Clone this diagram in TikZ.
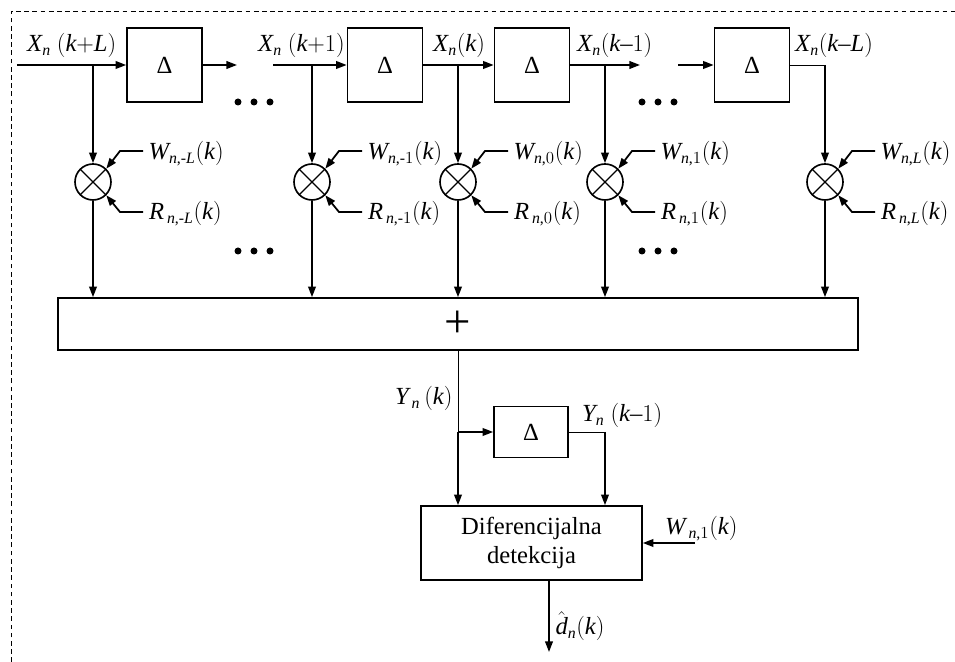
\documentclass[tikz,border=0pt]{standalone}
\usepackage{amsmath}
\usepackage{fontspec}
\setmainfont{Liberation Serif}
\usepackage[italic]{mathastext}
\usepackage{tikz}
\usetikzlibrary{arrows.meta,positioning,calc}
\DeclareMathSizes{21}{21}{13.5}{10}
\tikzset{
  % Delay elements
  dbox/.style={draw,line width=1.4pt,minimum width=2.25cm,minimum height=2.22cm,
               inner sep=0pt,font=\fontsize{21}{25.5}\selectfont},
  % Multipliers
  mult/.style={draw,circle,line width=1.4pt,minimum size=1.08cm,inner sep=0pt,
               path picture={\draw[line width=1pt] (path picture bounding box.north west)
                 -- (path picture bounding box.south east)
                 (path picture bounding box.north east)
                 -- (path picture bounding box.south west);}},
  % Summer and detector
  sumbox/.style={draw,line width=1.4pt,minimum width=24cm,minimum height=1.56cm,
                 inner sep=0pt},
  detbox/.style={draw,line width=1.4pt,minimum width=6.63cm,minimum height=2.22cm,
                 align=center,font=\fontsize{21}{25.5}\selectfont},
  % Connectors & labels
  fl/.style={-{Triangle[length=9pt,width=6.5pt]},line width=1.5pt},
  thinln/.style={line width=0.8pt},
  lbl/.style={font=\fontsize{21}{25.5}\selectfont,inner sep=0pt}
}
\begin{document}
\begin{tikzpicture}
  \useasboundingbox (0,0) rectangle (28.65,19.86);
  % Frame (top and left only)
  \draw[thinln,dash pattern=on 4pt off 3pt] (0.33,0) -- (0.33,19.53) -- (28.65,19.53);

  % --- Delay line ---
  \node[dbox] (d1) at (4.935,17.91) {Δ};
  \node[dbox] (d2) at (11.55,17.91) {Δ};
  \node[dbox] (d3) at (15.96,17.91) {Δ};
  \node[dbox] (d4) at (22.56,17.91) {Δ};

  \coordinate (in1)  at (0.51,17.91);
  \coordinate (out1) at (7.11,17.91);
  \coordinate (in2)  at (8.19,17.91);
  \coordinate (out3) at (19.2,17.91);
  \coordinate (in4)  at (20.34,17.91);

  % --- Multipliers ---
  \node[mult] (m1) at (2.79,14.4) {};
  \node[mult] (m2) at (9.36,14.4) {};
  \node[mult] (m3) at (13.74,14.4) {};
  \node[mult] (m4) at (18.15,14.4) {};
  \node[mult] (m5) at (24.75,14.4) {};

  % --- Summer, second delay, detector ---
  \node[sumbox] (sum) at (13.74,10.14) {\fontsize{40}{40}\selectfont +};
  \node[dbox,minimum width=2.22cm,minimum height=1.53cm] (d5) at (15.93,6.9) {Δ};
  \node[detbox] (det) at (15.945,3.57) {Diferencijalna\\detekcija};

  % --- Tap labels ---
  \node[lbl,anchor=base west] (x1) at (0.81,18.3)  {$X_n\ (k{+}L)$};
  \node[lbl,anchor=base west] (x2) at (7.74,18.3)  {$X_n\ (k{+}1)$};
  \node[lbl,anchor=base west] (x3) at (12.99,18.3) {$X_n(k)$};
  \node[lbl,anchor=base west] (x4) at (17.31,18.3) {$X_n(k{-}1)$};
  \node[lbl,anchor=base west] (x5) at (23.85,18.3) {$X_n(k{-}L)$};

  % --- Delay line connectors ---
  \draw[fl] (in1) -- (d1.west);
  \draw[fl] (d1.east) -- (out1);
  \draw[fl] (in2) -- (d2.west);
  \draw[fl] (d2.east) -- (d3.west);
  \draw[fl] (d3.east) -- (out3);
  \draw[fl] (in4) -- (d4.west);
  \draw[thinln] (d4.east) -- (m5 |- d4.east);

  % Taps down to multipliers, and on to the summer
  \foreach \m in {1,...,5} {
    \draw[fl] (m\m |- d1.west) -- (m\m);
    \draw[fl] (m\m) -- (m\m |- sum.north);
    \draw[fl] ([shift={(1.5,0.93)}]m\m.center) -- ++(-0.69,0) -- (m\m.north east);
    \draw[fl] ([shift={(1.5,-0.9)}]m\m.center) -- ++(-0.69,0) -- (m\m.south east);
  }

  % Weight and reference labels
  \foreach \m/\idx in {1/{\text{-}L},2/{\text{-}1},3/0,4/1,5/L} {
    \node[lbl,anchor=base west] at ([shift={(1.66,0.66)}]m\m.center) {$W_{n,\idx}(k)$};
    \node[lbl,anchor=base west] at ([shift={(1.68,-1.14)}]m\m.center) {$R_{\,n,\idx}(k)$};
  }

  % Ellipses
  \foreach \x in {7.62,19.74}
    \foreach \y in {16.8,12.33}
      \foreach \d in {-0.48,0,0.48}
        \fill (\x+\d,\y) circle (0.105);

  % --- Differential detection ---
  \coordinate (br)  at (sum.south |- d5.west);
  \coordinate (yk1) at (18.15,6.9);
  \coordinate (win) at (20.85,3.57);
  \coordinate (dout) at (16.47,0.3);

  \draw[thinln] (sum.south) -- (br);
  \draw[fl] (br) -- (d5.west);
  \draw[fl] (br) -- (br |- det.north);
  \draw[thinln] (d5.east) -- (yk1);
  \draw[fl] (yk1) -- (yk1 |- det.north);
  \draw[fl] (win) -- (det.east);
  \draw[fl] (det.south -| dout) -- (dout);

  \node[lbl,anchor=base west] (ylab)  at (11.85,7.71) {$Y_{\,n}\,(k)$};
  \node[lbl,anchor=base west] (y1lab) at (17.46,7.2)  {$Y_n\ (k{-}1)$};
  \node[lbl,anchor=base west] (wlab)  at (19.95,3.81) {$W_{\,n,1}(k)$};
  \node[lbl,anchor=base west] (dlab)  at (16.66,0.81) {$\hat{d}_n(k)$};
\end{tikzpicture}
\end{document}
